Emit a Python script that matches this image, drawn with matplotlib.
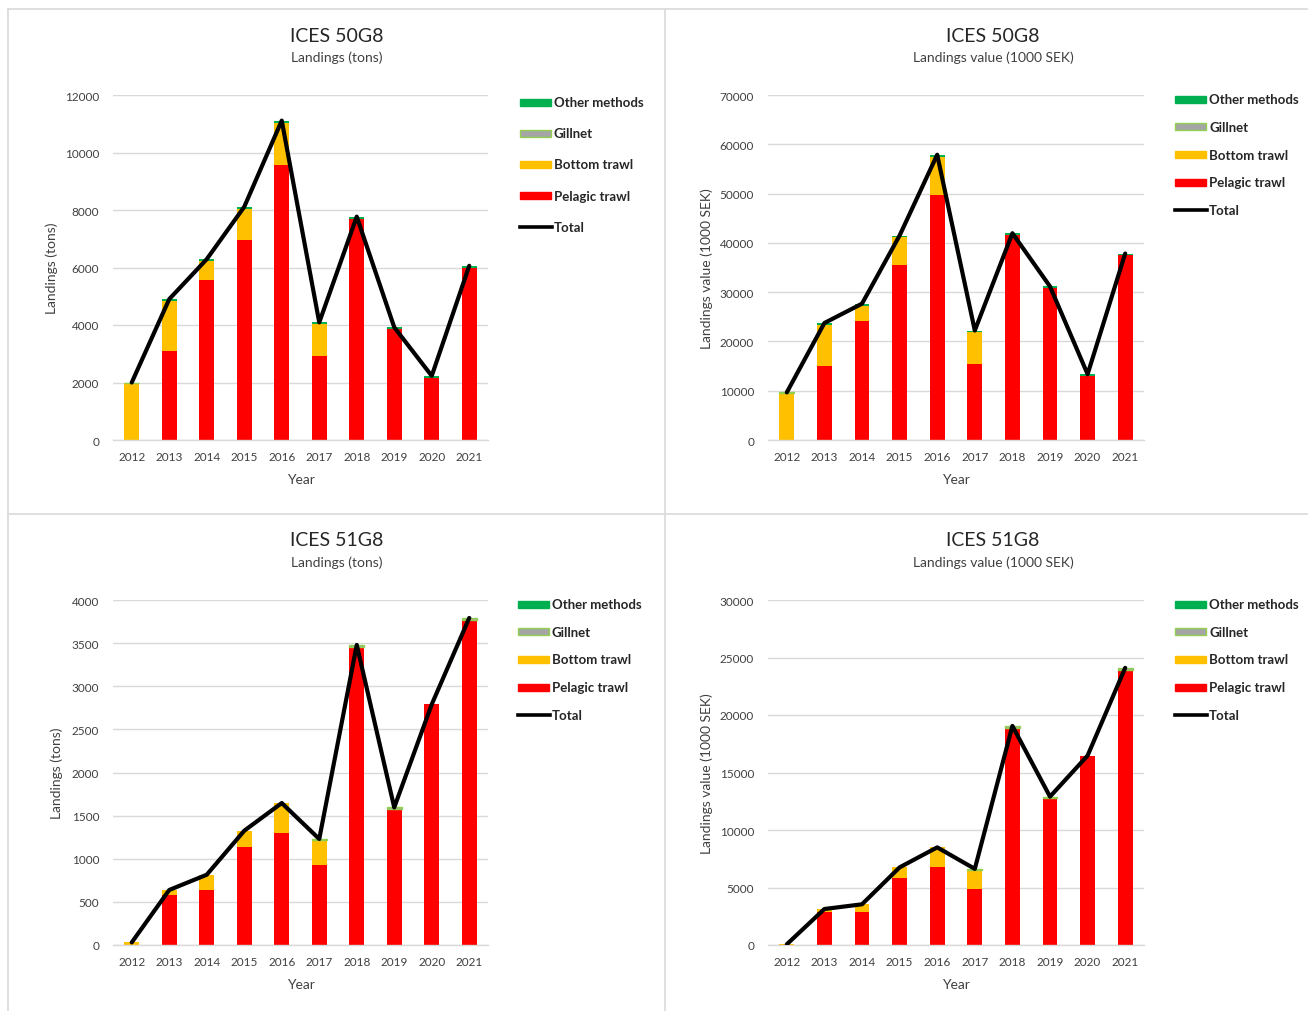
import matplotlib
matplotlib.use("Agg")
import matplotlib.pyplot as plt
import matplotlib.transforms as mtransforms
from matplotlib.patches import Rectangle
from matplotlib.lines import Line2D
import numpy as np

plt.rcParams['font.family'] = ['Lato', 'DejaVu Sans']

years = ["2012", "2013", "2014", "2015", "2016", "2017", "2018", "2019", "2020", "2021"]
series_names = ["Other methods", "Gillnet", "Bottom trawl", "Pelagic trawl", "Total"]

# ICES 50G8 – landings (tons)
g50_tons_pelagic = [0, 3100, 5550, 6950, 9570, 2910, 7700, 3860, 2170, 6000]
g50_tons_bottom = [1970, 1740, 680, 1100, 1470, 1120, 0, 0, 0, 0]
g50_tons_gillnet = [30, 0, 0, 0, 0, 0, 0, 0, 0, 0]
g50_tons_other = [0, 60, 60, 60, 70, 60, 70, 60, 60, 60]

# ICES 50G8 – landings value (1000 SEK)
g50_value_pelagic = [0, 15040, 24220, 35560, 49730, 15520, 41550, 30760, 12950, 37440]
g50_value_bottom = [9510, 8300, 3040, 5530, 7750, 6340, 0, 0, 0, 0]
g50_value_gillnet = [150, 0, 0, 0, 0, 0, 0, 0, 0, 0]
g50_value_other = [0, 400, 400, 400, 400, 350, 400, 400, 400, 400]

# ICES 51G8 – landings (tons)
g51_tons_pelagic = [0, 583, 638, 1136, 1299, 927, 3459, 1580, 2790, 3772]
g51_tons_bottom = [30, 55, 177, 189, 347, 290, 0, 0, 0, 0]
g51_tons_gillnet = [0, 0, 0, 0, 0, 12, 20, 15, 0, 20]
g51_tons_other = [0, 0, 0, 0, 0, 0, 0, 0, 0, 0]

# ICES 51G8 – landings value (1000 SEK)
g51_value_pelagic = [0, 2840, 2840, 5830, 6750, 4900, 18900, 12780, 16470, 23950]
g51_value_bottom = [60, 290, 700, 920, 1740, 1620, 0, 0, 0, 0]
g51_value_gillnet = [0, 0, 0, 0, 0, 100, 150, 120, 0, 150]
g51_value_other = [0, 0, 0, 0, 0, 0, 0, 0, 0, 0]

C_OTHER = "#00B050"
C_GILL = "#A5A5A5"
C_GILL_EDGE = "#92D050"
C_BOTTOM = "#FFC000"
C_PELAGIC = "#FF0000"
C_GRID = "#D9D9D9"
C_TEXT = "#404040"

W, H = 1308, 1012
fig = plt.figure(figsize=(W / 100, H / 100), dpi=100)
fig.patch.set_facecolor("white")

# pixel coordinates measured from the top-left corner of the figure
px = mtransforms.Affine2D().scale(1 / W, -1 / H).translate(0, 1) + fig.transFigure


def add_axes_px(x0, y0, x1, y1):
    return fig.add_axes([x0 / W, 1 - y1 / H, (x1 - x0) / W, (y1 - y0) / H])


# chart frames
for (xa, ya, xb, yb) in [(8, 10, 8, H), (8, 10, W, 10), (665, 10, 665, H), (8, 515, W, 515)]:
    fig.add_artist(Line2D([xa, xb], [ya, yb], transform=px, color=C_GRID, lw=1.2))


def draw_panel(box, pelagic, bottom, gillnet, other, ymax, ystep,
               title, subtitle, ylabel, title_xy, ylabel_x, xlabel_y, legend_xy, legend_step):
    ax = add_axes_px(*box)
    x = np.arange(len(years))
    p = np.array(pelagic, float)
    b = np.array(bottom, float)
    g = np.array(gillnet, float)
    o = np.array(other, float)
    w = 0.39
    ax.bar(x, p, w, color=C_PELAGIC, zorder=2)
    ax.bar(x, b, w, bottom=p, color=C_BOTTOM, zorder=2)
    ax.bar(x, g, w, bottom=p + b, color=C_GILL, edgecolor=C_GILL_EDGE,
           linewidth=np.where(g > 0, 1.0, 0.0), zorder=2)
    ax.bar(x, o, w, bottom=p + b + g, color=C_OTHER, zorder=2)
    total = p + b + g + o
    ax.plot(x, total, color="black", lw=3.0, solid_joinstyle="round",
            solid_capstyle="round", zorder=3)

    ax.set_xlim(-0.5, len(years) - 0.5)
    ax.set_ylim(0, ymax)
    ax.set_yticks(np.arange(0, ymax + 1, ystep))
    ax.set_xticks(x)
    ax.set_xticklabels(years)
    ax.yaxis.grid(True, color=C_GRID, lw=1.0, zorder=0)
    ax.set_axisbelow(True)
    for s in ("top", "right", "left"):
        ax.spines[s].set_visible(False)
    ax.spines["bottom"].set_color(C_GRID)
    ax.spines["bottom"].set_linewidth(1.0)
    ax.tick_params(axis="y", length=0, pad=10, labelsize=8.5, labelcolor=C_TEXT)
    ax.tick_params(axis="x", length=0, pad=8, labelsize=8.5, labelcolor=C_TEXT)

    tx, ty = title_xy
    fig.text(tx, ty, title, transform=px, ha="center", va="center", fontsize=14, color="#262626")
    fig.text(tx, ty + 22, subtitle, transform=px, ha="center", va="center", fontsize=10, color=C_TEXT)
    cy = (box[1] + box[3]) / 2
    fig.text(ylabel_x, cy, ylabel, transform=px, ha="center", va="center", rotation=90,
             fontsize=10, color=C_TEXT)
    fig.text((box[0] + box[2]) / 2, xlabel_y, "Year", transform=px, ha="center", va="center",
             fontsize=10, color=C_TEXT)

    # legend
    lx, ly = legend_xy
    styles = [(C_OTHER, C_OTHER), (C_GILL, C_GILL_EDGE), (C_BOTTOM, C_BOTTOM), (C_PELAGIC, C_PELAGIC)]
    for i, name in enumerate(series_names):
        yy = ly + i * legend_step
        if i < 4:
            fc, ec = styles[i]
            fig.add_artist(Rectangle((lx, yy - 3.5), 31, 7, transform=px, facecolor=fc,
                                     edgecolor=ec, lw=1.0))
        else:
            fig.add_artist(Line2D([lx, lx + 32], [yy, yy], transform=px, color="black", lw=2.6))
        fig.text(lx + 34, yy, name, transform=px, ha="left", va="center", fontsize=9.5,
                 fontweight="bold", color="#262626")
    return ax


draw_panel((113, 96, 488, 441), g50_tons_pelagic, g50_tons_bottom, g50_tons_gillnet, g50_tons_other,
           12000, 2000, "ICES 50G8", "Landings (tons)", "Landings (tons)",
           (337, 36), 52, 480, (520, 103), 31.2)
draw_panel((768, 96, 1144, 441), g50_value_pelagic, g50_value_bottom, g50_value_gillnet, g50_value_other,
           70000, 10000, "ICES 50G8", "Landings value (1000 SEK)", "Landings value (1000 SEK)",
           (993, 36), 707, 480, (1175, 100), 27.8)
draw_panel((113, 601, 488, 946), g51_tons_pelagic, g51_tons_bottom, g51_tons_gillnet, g51_tons_other,
           4000, 500, "ICES 51G8", "Landings (tons)", "Landings (tons)",
           (337, 541), 57, 985, (518, 605), 27.7)
draw_panel((768, 601, 1144, 946), g51_value_pelagic, g51_value_bottom, g51_value_gillnet, g51_value_other,
           30000, 5000, "ICES 51G8", "Landings value (1000 SEK)", "Landings value (1000 SEK)",
           (993, 541), 707, 985, (1175, 605), 27.7)

fig.savefig("out.png", dpi=100, facecolor="white")
